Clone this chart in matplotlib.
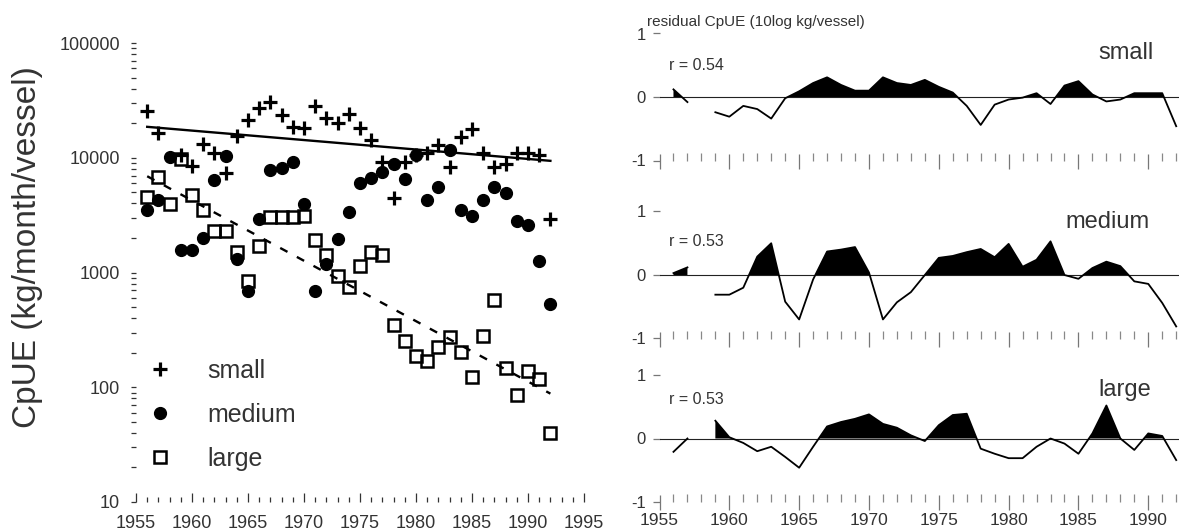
import numpy as np
import matplotlib
matplotlib.use("Agg")
import matplotlib.pyplot as plt
from matplotlib.lines import Line2D
from matplotlib.ticker import LogLocator, NullFormatter

plt.rcParams['font.family'] = ['Liberation Sans', 'DejaVu Sans']

nan = np.nan
years = np.arange(1956, 1993)

# CpUE (kg/month/vessel) per size class
small = [25600, 16500, nan, 10500, 8500, 13100, 10900, 7400, 15400, 21300,
         26900, 30700, 23500, 18600, 18000, 28200, 22400, 20100, 24300, 18000,
         14200, 9200, 4450, 9100, 10500, 11000, 12800, 8300, 15200, 17700,
         10900, 8300, 8800, 11000, 10900, 10500, 2950]
medium = [3500, 4260, 10200, 1560, 1570, 2000, 6350, 10300, 1320, 690,
          2940, 7800, 8200, 9100, 3930, 690, 1190, 1950, 3360, 6000,
          6600, 7500, 8900, 6500, 10500, 4300, 5600, 11800, 3500, 3080,
          4300, 5600, 4900, 2790, 2570, 1250, 533]
large = [4550, 6800, 3980, 9800, 4780, 3500, 2300, 2300, 1500, 850,
         1690, 3040, 3040, 3040, 3100, 1930, 1410, 940, 745, 1150,
         1500, 1410, 351, 251, 188, 170, 223, 276, 204, 124,
         282, 578, 147, 85, 139, 118, 40]

# trend lines (start / end)
trend_years = [1956, 1992]
small_trend = [18600, 9400]
large_trend = [6900, 88]

# residual CpUE (10log kg/vessel), 1958 missing
res_small = [0.12, -0.08, nan, -0.24, -0.31, -0.14, -0.19, -0.34, -0.02, 0.09,
             0.22, 0.31, 0.19, 0.10, 0.10, 0.31, 0.22, 0.19, 0.27, 0.16,
             0.07, -0.14, -0.44, -0.12, -0.04, -0.01, 0.06, -0.11, 0.18, 0.25,
             0.04, -0.07, -0.04, 0.06, 0.06, 0.06, -0.46]
res_medium = [0.03, 0.12, nan, -0.31, -0.31, -0.20, 0.29, 0.50, -0.42, -0.70,
              -0.07, 0.37, 0.40, 0.44, 0.04, -0.70, -0.43, -0.27, 0.0, 0.27,
              0.30, 0.36, 0.41, 0.28, 0.49, 0.13, 0.24, 0.53, 0.0, -0.06,
              0.11, 0.21, 0.14, -0.10, -0.14, -0.44, -0.81]
res_large = [-0.21, 0.0, nan, 0.28, 0.02, -0.07, -0.20, -0.13, -0.29, -0.46,
             -0.13, 0.19, 0.26, 0.31, 0.38, 0.23, 0.17, 0.05, -0.04, 0.21,
             0.37, 0.39, -0.16, -0.24, -0.31, -0.31, -0.13, 0.0, -0.08, -0.24,
             0.08, 0.52, 0.0, -0.18, 0.08, 0.04, -0.34]
r_values = ["r = 0.54", "r = 0.53", "r = 0.53"]
class_names = ["small", "medium", "large"]

W, H = 1179, 532
fig = plt.figure(figsize=(W / 100, H / 100), dpi=100)


def box(x0, y0, x1, y1):
    # pixel box -> figure fraction
    return [x0 / W, 1 - y1 / H, (x1 - x0) / W, (y1 - y0) / H]


TXT = '#333333'

# ---------------- left panel ----------------
ax = fig.add_axes(box(136, 43, 584, 502))
ax.set_yscale('log')
ax.plot(years, small, ls='none', marker='+', ms=9.5, mew=2.3, color='black')
ax.plot(years, medium, ls='none', marker='o', ms=8.5, color='black')
ax.plot(years, large, ls='none', marker='s', ms=8.5, mew=1.8, mfc='none', mec='black')
ax.plot(trend_years, small_trend, color='black', lw=1.7)
ax.plot(trend_years, large_trend, color='black', lw=1.7, ls=(0, (3.5, 4.5)))

ax.set_xlim(1955, 1995)
ax.set_ylim(10, 100000)
ax.set_xticks(range(1955, 1996, 5))
ax.set_xticks(range(1955, 1996), minor=True)
ax.set_yticks([10, 100, 1000, 10000, 100000])
ax.set_yticklabels(['10', '100', '1000', '10000', '100000'])
ax.yaxis.set_minor_locator(LogLocator(base=10, subs=np.arange(2, 10)))
ax.yaxis.set_minor_formatter(NullFormatter())
for s in ax.spines.values():
    s.set_visible(False)
ax.tick_params(axis='x', which='major', direction='in', length=6.5, width=0.9,
               color=TXT, labelsize=13, labelcolor=TXT, pad=9)
ax.tick_params(axis='x', which='minor', direction='in', length=3.6, width=0.9, color=TXT)
ax.tick_params(axis='y', which='both', direction='out', length=3.6, width=0.9,
               color=TXT, labelsize=13, labelcolor=TXT, pad=8)

fig.text(28 / W, 1 - 247 / H, 'CpUE (kg/month/vessel)', rotation=90,
         ha='center', va='center', fontsize=24, color=TXT)

handles = [Line2D([], [], ls='none', marker='+', ms=9.5, mew=2.3, color='black'),
           Line2D([], [], ls='none', marker='o', ms=8.5, color='black'),
           Line2D([], [], ls='none', marker='s', ms=8.5, mew=1.8, mfc='none', mec='black')]
leg = ax.legend(handles, class_names, loc='upper left',
                bbox_to_anchor=(147 / W, 1 - 359 / H), bbox_transform=fig.transFigure,
                frameon=False, fontsize=18, handlelength=1.0, handletextpad=1.4,
                labelspacing=0.8, borderpad=0, borderaxespad=0)
for t in leg.get_texts():
    t.set_color(TXT)

# ---------------- right panels ----------------
boxes = [(659.5, 33.5, 1179, 160.5), (659.5, 211.5, 1179, 338.5), (659.5, 375, 1179, 502)]
residuals = [res_small, res_medium, res_large]
name_pos = [(1988.4, 0.69), (1987.1, 0.84), (1988.35, 0.76)]
r_pos = [0.50, 0.52, 0.62]

for i in range(3):
    rx = fig.add_axes(box(*boxes[i]))
    y = np.array(residuals[i], dtype=float)
    rx.axhline(0, color='#222222', lw=0.8)
    rx.fill_between(years, y, 0, where=y > 0, interpolate=True, color='black', lw=0)
    rx.plot(years, y, color='black', lw=1.3)
    rx.set_xlim(1955, 1992.2)
    rx.set_ylim(-1, 1)
    rx.set_yticks([-1, 0, 1])
    rx.set_yticklabels(['-1', '0', '1'])
    rx.set_xticks(range(1955, 1991, 5))
    rx.set_xticks(range(1955, 1993), minor=True)
    for s in rx.spines.values():
        s.set_visible(False)
    rx.tick_params(axis='x', which='major', direction='inout', length=10.8, width=0.9,
                   color='#777777', labelsize=12.5, labelcolor=TXT, pad=2.5)
    rx.tick_params(axis='x', which='minor', direction='in', length=5.8, width=0.9,
                   color='#888888')
    rx.tick_params(axis='y', direction='out', length=5, width=0.9, color='#777777',
                   labelsize=12, labelcolor=TXT, pad=5)
    if i < 2:
        rx.tick_params(axis='x', labelbottom=False)
    rx.text(name_pos[i][0], name_pos[i][1], class_names[i], ha='center', va='center',
            fontsize=17, color=TXT)
    rx.text(1955.7, r_pos[i], r_values[i], ha='left', va='center', fontsize=11.5, color=TXT)

fig.text(646.7 / W, 1 - 21.7 / H, 'residual CpUE (10log kg/vessel)', ha='left',
         va='center', fontsize=11, color=TXT)

fig.savefig('out.png', dpi=100, facecolor='white')
